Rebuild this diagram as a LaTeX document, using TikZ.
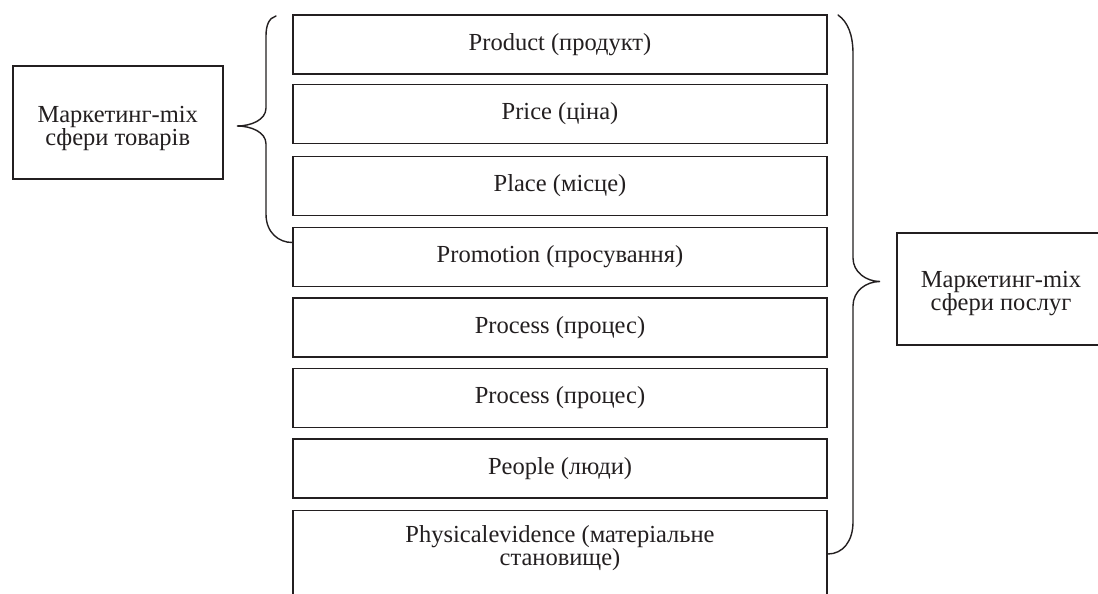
\documentclass[tikz,border=0pt]{standalone}
\usepackage{fontspec}
\setmainfont{Liberation Serif}
\definecolor{ink}{RGB}{35,31,32}
\begin{document}
\begin{tikzpicture}[x=1pt,y=-1pt,
  every node/.style={font=\fontsize{24.5}{20.5}\selectfont, text=ink},
  mixbox/.style={draw=ink, line width=1.7pt, rectangle, inner sep=0pt,
    minimum width=534pt, minimum height=59pt, align=center},
  sidebox/.style={draw=ink, line width=1.7pt, rectangle, inner sep=0pt},
  sidetext/.style={inner sep=0pt, align=center},
  brace/.style={draw=ink, line width=1.4pt, line cap=round}]
\useasboundingbox (0,0) rectangle (1098,594);
\clip (0,0) rectangle (1098,594);
\fill[white] (0,0) rectangle (1098,594);

% the eight elements of the marketing mix
\node[mixbox] (b1) at (560,44.5)  {Product (продукт)};
\node[mixbox] (b2) at (560,114)   {Price (ціна)};
\node[mixbox] (b3) at (560,186)   {Place (місце)};
\node[mixbox] (b4) at (560,257)   {Promotion (просування)};
\node[mixbox] (b5) at (560,327.5) {Process (процес)};
\node[mixbox] (b6) at (560,398)   {Process (процес)};
\node[mixbox] (b7) at (560,468.5) {People (люди)};
\node[mixbox, minimum height=130pt, anchor=north] (b8) at (560,509.5) {};
\node[anchor=north, inner sep=0pt, align=center] (b8t) at (560,525.5)
  {Physicalevidence (матеріальне\\становище)};

% the two groupings
\node[sidebox, minimum width=210pt, minimum height=113pt] (goods) at (117.7,122.8) {};
\node[sidetext] (goodst) at ([yshift=-5.5pt]goods.center) {Маркетинг-mix\\сфери товарів};
\node[sidebox, minimum width=208pt, minimum height=112.3pt] (serv) at (1001,288.9) {};
\node[sidetext] (servt) at ([yshift=-5pt]serv.center) {Маркетинг-mix\\сфери послуг};

% brace over the first four elements
\draw[brace] (276,16) .. controls (269,18) and (266,25) .. (266,36)
  -- (266,108) .. controls (266,120) and (251,126) .. (237,126)
  .. controls (251,126) and (266,132) .. (266,144)
  -- (266,214) .. controls (266,233) and (279,242.5) .. (b4.west |- 0,242.5);

% brace over all eight elements
\draw[brace] (838,15) .. controls (848,22) and (853,35) .. (853,54)
  -- (853,258) .. controls (853,272) and (866,281.5) .. (880,281.5)
  .. controls (866,281.5) and (853,291) .. (853,306)
  -- (853,522) .. controls (853,541) and (843,554) .. (b8.east |- 0,554);
\end{tikzpicture}
\end{document}
